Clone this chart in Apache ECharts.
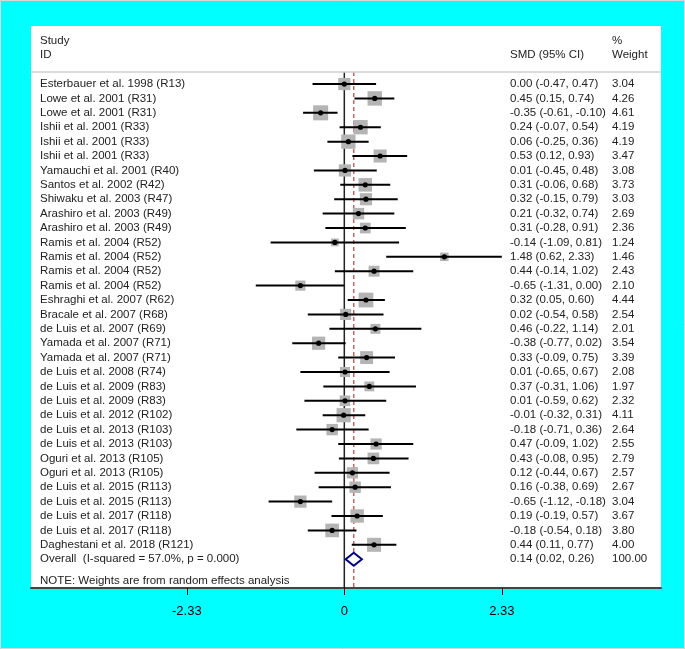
<!DOCTYPE html>
<html><head><meta charset="utf-8">
<script src="https://cdn.jsdelivr.net/npm/echarts@6/dist/echarts.min.js"></script>
<style>html,body{margin:0;padding:0;background:#00ffff}#c{width:685px;height:649px}</style>
</head><body><div id="c"></div>
<script>
const studies = [
 'Esterbauer et al. 1998 (R13)','Lowe et al. 2001 (R31)','Lowe et al. 2001 (R31)',
 'Ishii et al. 2001 (R33)','Ishii et al. 2001 (R33)','Ishii et al. 2001 (R33)',
 'Yamauchi et al. 2001 (R40)','Santos et al. 2002 (R42)','Shiwaku et al. 2003 (R47)',
 'Arashiro et al. 2003 (R49)','Arashiro et al. 2003 (R49)',
 'Ramis et al. 2004 (R52)','Ramis et al. 2004 (R52)','Ramis et al. 2004 (R52)','Ramis et al. 2004 (R52)',
 'Eshraghi et al. 2007 (R62)','Bracale et al. 2007 (R68)','de Luis et al. 2007 (R69)',
 'Yamada et al. 2007 (R71)','Yamada et al. 2007 (R71)','de Luis et al. 2008 (R74)',
 'de Luis et al. 2009 (R83)','de Luis et al. 2009 (R83)','de Luis et al. 2012 (R102)',
 'de Luis et al. 2013 (R103)','de Luis et al. 2013 (R103)','Oguri et al. 2013 (R105)',
 'Oguri et al. 2013 (R105)','de Luis et al. 2015 (R113)','de Luis et al. 2015 (R113)',
 'de Luis et al. 2017 (R118)','de Luis et al. 2017 (R118)','Daghestani et al. 2018 (R121)'
];
const smd = [0.00,0.45,-0.35,0.24,0.06,0.53,0.01,0.31,0.32,0.21,0.31,-0.14,1.48,0.44,-0.65,0.32,0.02,0.46,-0.38,0.33,0.01,0.37,0.01,-0.01,-0.18,0.47,0.43,0.12,0.16,-0.65,0.19,-0.18,0.44];
const ciLower = [-0.47,0.15,-0.61,-0.07,-0.25,0.12,-0.45,-0.06,-0.15,-0.32,-0.28,-1.09,0.62,-0.14,-1.31,0.05,-0.54,-0.22,-0.77,-0.09,-0.65,-0.31,-0.59,-0.32,-0.71,-0.09,-0.08,-0.44,-0.38,-1.12,-0.19,-0.54,0.11];
const ciUpper = [0.47,0.74,-0.10,0.54,0.36,0.93,0.48,0.68,0.79,0.74,0.91,0.81,2.33,1.02,0.00,0.60,0.58,1.14,0.02,0.75,0.67,1.06,0.62,0.31,0.36,1.02,0.95,0.67,0.69,-0.18,0.57,0.18,0.77];
const weights = [3.04,4.26,4.61,4.19,4.19,3.47,3.08,3.73,3.03,2.69,2.36,1.24,1.46,2.43,2.10,4.44,2.54,2.01,3.54,3.39,2.08,1.97,2.32,4.11,2.64,2.55,2.79,2.57,2.67,3.04,3.67,3.80,4.00];
const overallLabel = 'Overall  (I-squared = 57.0%, p = 0.000)';
const overall = [0.14, 0.02, 0.26];
const overallWeight = '100.00';
const xTicks = [-2.33, 0, 2.33];
const headerStudy = ['Study', 'ID'];
const headerCI = 'SMD (95% CI)';
const headerWeight = ['%', 'Weight'];
const note = 'NOTE: Weights are from random effects analysis';

const FONT = '"Liberation Sans", Arial, sans-serif';
const TXT = '#222';
const fmt = v => v.toFixed(2);
const nRows = studies.length;
const overallRow = nRows;
const headerLineRow = -0.83;
const bottomRow = 35;

const rowData = studies.map((s, i) => [i, smd[i], ciLower[i], ciUpper[i], weights[i]]);
const textRows = studies.map((s, i) => [i, s, fmt(smd[i]) + ' (' + fmt(ciLower[i]) + ', ' + fmt(ciUpper[i]) + ')', fmt(weights[i])]);
textRows.push([overallRow, overallLabel, fmt(overall[0]) + ' (' + fmt(overall[1]) + ', ' + fmt(overall[2]) + ')', overallWeight]);
textRows.push([-3, headerStudy[0], '', headerWeight[0]]);
textRows.push([-2, headerStudy[1], headerCI, headerWeight[1]]);
textRows.push([overallRow + 1.5, note, '', '']);

const chart = echarts.init(document.getElementById('c'), null, {renderer: 'canvas'});
const txt = (x, y, t) => ({type: 'text', x: x, y: y, style: {text: t, font: '11.5px ' + FONT, fill: TXT, textAlign: 'left', textVerticalAlign: 'middle'}});

chart.setOption({
  backgroundColor: '#00ffff',
  animation: false,
  graphic: [
    {type: 'rect', shape: {x: 0.5, y: 0.5, width: 684, height: 648}, style: {fill: 'none', stroke: '#d8d8d8', lineWidth: 1}, z: 100}
  ],
  grid: {left: 31, top: 26, width: 630, height: 562, show: true, backgroundColor: '#fff', borderWidth: 0},
  xAxis: {
    type: 'value', min: -4.635, max: 4.685,
    axisLine: {show: true, onZero: false, lineStyle: {color: '#444', width: 2}},
    axisTick: {show: true, customValues: xTicks, length: 7, lineStyle: {color: '#000', width: 1}},
    axisLabel: {show: true, customValues: xTicks, margin: 17, color: '#000', fontSize: 13, fontFamily: FONT,
      formatter: v => (v === 0 ? '0' : v.toFixed(2))},
    splitLine: {show: false}
  },
  yAxis: {type: 'value', min: -4.03, max: bottomRow, inverse: true, show: false},
  series: [
    {
      type: 'custom', name: 'refs', silent: true,
      data: [[0, 0], [overall[0], 1]],
      renderItem: (params, api) => {
        const x = api.value(0);
        const a = api.coord([x, headerLineRow]);
        const b = api.coord([x, bottomRow]);
        const dashed = api.value(1) === 1;
        return {type: 'line', shape: {x1: a[0], y1: a[1], x2: b[0], y2: b[1]},
          style: dashed ? {stroke: '#c0504d', lineWidth: 1.3, lineDash: [4, 3]} : {stroke: '#222', lineWidth: 1.5}};
      }
    },
    {
      type: 'custom', name: 'studies', silent: true,
      data: rowData,
      encode: {x: [1, 2, 3], y: 0},
      renderItem: (params, api) => {
        const r = api.value(0), e = api.value(1), lo = api.value(2), hi = api.value(3), w = api.value(4);
        const pE = api.coord([e, r]), pLo = api.coord([lo, r]), pHi = api.coord([hi, r]);
        const s = 7 * Math.sqrt(w);
        return {type: 'group', children: [
          {type: 'rect', shape: {x: pE[0] - s / 2, y: pE[1] - s / 2, width: s, height: s}, style: {fill: '#b4b4b4'}},
          {type: 'line', shape: {x1: pLo[0], y1: pLo[1], x2: pHi[0], y2: pHi[1]}, style: {stroke: '#000', lineWidth: 2}},
          {type: 'circle', shape: {cx: pE[0], cy: pE[1], r: 2.6}, style: {fill: '#000'}}
        ]};
      }
    },
    {
      type: 'custom', name: 'overall', silent: true,
      data: [[overallRow, overall[0], overall[1], overall[2]]],
      encode: {x: [1, 2, 3], y: 0},
      renderItem: (params, api) => {
        const r = api.value(0);
        const pL = api.coord([api.value(2), r]), pR = api.coord([api.value(3), r]);
        const pT = api.coord([api.value(1), r - 0.45]), pB = api.coord([api.value(1), r + 0.45]);
        return {type: 'polygon', shape: {points: [pL, pT, pR, pB]}, style: {fill: '#fff', stroke: '#000080', lineWidth: 2}};
      }
    },
    {
      type: 'custom', name: 'texts', silent: true,
      data: textRows,
      encode: {y: 0},
      renderItem: (params, api) => {
        const idx = params.dataIndex;
        const row = textRows[idx];
        const y = api.coord([0, row[0]])[1];
        const ch = [txt(40, y, row[1])];
        if (row[2]) ch.push(txt(510, y, row[2]));
        if (row[3]) ch.push(txt(612, y, row[3]));
        return {type: 'group', children: ch};
      }
    },
    {
      type: 'custom', name: 'headerLine', silent: true,
      data: [[headerLineRow]],
      encode: {y: 0},
      renderItem: (params, api) => {
        const y = api.coord([0, api.value(0)])[1];
        return {type: 'line', shape: {x1: 31, y1: y, x2: 661, y2: y}, style: {stroke: '#cfcfcf', lineWidth: 1.5}};
      }
    }
  ]
});
</script></body></html>
